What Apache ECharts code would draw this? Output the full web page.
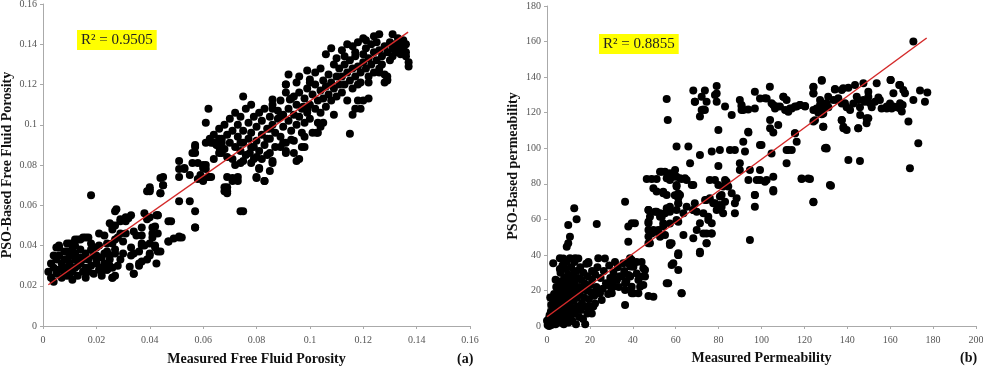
<!DOCTYPE html>
<html>
<head>
<meta charset="utf-8">
<script src="https://cdn.jsdelivr.net/npm/echarts@6/dist/echarts.min.js"></script>
<style>
  html, body { margin: 0; padding: 0; background: #fff; }
  #chart { width: 983px; height: 368px; }
</style>
</head>
<body>
<div id="chart"></div>
<script>
// (a) measured vs PSO-based free fluid porosity
const porosityPoints = [
  [0.002,0.027],[0.003,0.024],[0.003,0.031],[0.004,0.029],[0.004,0.022],[0.005,0.033],[0.005,0.026],[0.006,0.039],
  [0.006,0.035],[0.006,0.028],[0.007,0.024],[0.007,0.031],[0.008,0.037],[0.008,0.027],[0.009,0.033],[0.009,0.029],
  [0.009,0.025],[0.010,0.041],[0.010,0.035],[0.010,0.031],[0.011,0.027],[0.011,0.023],[0.012,0.036],[0.012,0.033],
  [0.012,0.029],[0.013,0.043],[0.013,0.025],[0.014,0.038],[0.014,0.034],[0.014,0.031],[0.015,0.027],[0.015,0.044],
  [0.016,0.036],[0.016,0.029],[0.016,0.024],[0.017,0.044],[0.017,0.033],[0.018,0.065],[0.018,0.038],[0.018,0.030],
  [0.019,0.026],[0.020,0.035],[0.020,0.031],[0.021,0.028],[0.021,0.040],[0.022,0.034],[0.022,0.025],[0.023,0.045],
  [0.023,0.031],[0.024,0.037],[0.024,0.028],[0.025,0.033],[0.026,0.024],[0.026,0.041],[0.027,0.036],[0.028,0.030],
  [0.027,0.057],[0.028,0.044],[0.026,0.050],[0.029,0.052],[0.031,0.054],[0.033,0.055],[0.038,0.056],[0.043,0.055],
  [0.040,0.067],[0.044,0.066],[0.051,0.062],[0.055,0.062],[0.057,0.057],[0.057,0.049],[0.048,0.052],[0.040,0.054],
  [0.037,0.049],[0.041,0.049],[0.037,0.045],[0.043,0.046],[0.041,0.044],[0.047,0.042],[0.051,0.044],[0.052,0.044],
  [0.042,0.040],[0.044,0.037],[0.040,0.035],[0.037,0.032],[0.036,0.030],[0.034,0.026],[0.033,0.035],[0.033,0.039],
  [0.037,0.040],[0.025,0.051],[0.026,0.048],[0.021,0.046],[0.016,0.044],[0.014,0.043],[0.012,0.043],[0.009,0.041],
  [0.006,0.040],[0.005,0.039],[0.027,0.043],[0.030,0.042],[0.027,0.038],[0.030,0.036],[0.025,0.035],[0.029,0.033],
  [0.026,0.029],[0.027,0.025],[0.026,0.024],[0.024,0.028],[0.022,0.027],[0.022,0.029],[0.020,0.033],[0.031,0.046],
  [0.034,0.047],[0.034,0.026],[0.036,0.031],[0.0325,0.0295],[0.036,0.037],[0.038,0.040],[0.037,0.041],[0.035,0.045],
  [0.034,0.036],[0.040,0.041],[0.040,0.036],[0.042,0.039],[0.043,0.037],[0.0425,0.031],[0.039,0.033],[0.047,0.042],
  [0.049,0.0435],[0.051,0.0445],[0.0425,0.055],[0.039,0.053],[0.042,0.0495],[0.041,0.046],[0.032,0.0535],[0.031,0.052],
  [0.029,0.053],[0.029,0.046],[0.0275,0.058],[0.027,0.050],[0.026,0.0495],[0.045,0.074],[0.045,0.070],[0.044,0.066],
  [0.040,0.069],[0.043,0.055],[0.047,0.052],[0.057,0.049],[0.075,0.057],[0.074,0.057],[0.057,0.089],[0.057,0.086],
  [0.056,0.081],[0.055,0.075],[0.053,0.0785],[0.051,0.082],[0.051,0.078],[0.051,0.074],[0.045,0.070],[0.044,0.0735],
  [0.040,0.068],[0.039,0.067],[0.062,0.074],[0.060,0.072],[0.059,0.075],[0.061,0.080],[0.060,0.0785],[0.064,0.083],
  [0.067,0.086],[0.066,0.089],[0.064,0.091],[0.0625,0.093],[0.069,0.069],[0.068,0.067],[0.069,0.066],[0.071,0.072],
  [0.071,0.0735],[0.074,0.081],[0.072,0.080],[0.075,0.097],[0.074,0.091],[0.0775,0.086],[0.080,0.084],[0.079,0.089],
  [0.081,0.0785],[0.080,0.0735],[0.083,0.072],[0.085,0.077],[0.086,0.081],[0.085,0.086],[0.084,0.093],[0.085,0.098],
  [0.089,0.104],[0.086,0.108],[0.086,0.1125],[0.094,0.114],[0.0925,0.1125],[0.0975,0.109],[0.099,0.1075],[0.101,0.096],
  [0.093,0.0925],[0.091,0.086],[0.096,0.083],[0.098,0.089],[0.057,0.090],[0.056,0.086],[0.061,0.091],[0.063,0.091],
  [0.066,0.093],[0.067,0.091],[0.053,0.078],[0.058,0.081],[0.060,0.080],[0.061,0.078],[0.060,0.073],[0.058,0.073],
  [0.062,0.074],[0.063,0.074],[0.068,0.069],[0.069,0.067],[0.073,0.072],[0.069,0.074],[0.073,0.074],[0.080,0.074],
  [0.083,0.072],[0.081,0.078],[0.086,0.082],[0.082,0.083],[0.078,0.081],[0.075,0.082],[0.071,0.083],[0.069,0.084],
  [0.095,0.082],[0.097,0.089],[0.094,0.086],[0.091,0.087],[0.089,0.089],[0.091,0.091],[0.094,0.092],[0.098,0.094],
  [0.103,0.096],[0.062,0.108],[0.061,0.101],[0.064,0.095],[0.065,0.090],[0.066,0.098],[0.067,0.093],[0.068,0.088],
  [0.068,0.100],[0.069,0.095],[0.070,0.091],[0.070,0.103],[0.066,0.086],[0.071,0.097],[0.072,0.089],[0.072,0.106],
  [0.073,0.094],[0.073,0.100],[0.074,0.087],[0.074,0.104],[0.075,0.091],[0.076,0.108],[0.076,0.085],[0.077,0.093],
  [0.077,0.101],[0.078,0.089],[0.078,0.096],[0.079,0.104],[0.079,0.083],[0.080,0.092],[0.080,0.099],[0.081,0.087],
  [0.081,0.106],[0.075,0.114],[0.078,0.110],[0.082,0.095],[0.082,0.102],[0.083,0.090],[0.083,0.108],[0.084,0.098],
  [0.084,0.085],[0.085,0.093],[0.085,0.104],[0.086,0.100],[0.086,0.110],[0.087,0.096],[0.087,0.089],[0.088,0.103],
  [0.088,0.107],[0.089,0.094],[0.089,0.112],[0.090,0.099],[0.090,0.105],[0.091,0.116],[0.090,0.091],[0.092,0.102],
  [0.092,0.108],[0.093,0.097],[0.093,0.113],[0.094,0.105],[0.095,0.110],[0.095,0.100],[0.096,0.116],[0.096,0.104],
  [0.097,0.108],[0.097,0.096],[0.098,0.113],[0.098,0.101],[0.099,0.118],[0.099,0.106],[0.100,0.110],[0.100,0.103],
  [0.092,0.125],[0.096,0.124],[0.091,0.120],[0.100,0.1225],[0.091,0.120],[0.100,0.121],[0.101,0.115],[0.102,0.108],
  [0.102,0.120],[0.103,0.112],[0.103,0.101],[0.104,0.117],[0.104,0.106],[0.105,0.122],[0.105,0.113],[0.106,0.109],
  [0.106,0.119],[0.107,0.115],[0.107,0.125],[0.108,0.112],[0.108,0.121],[0.109,0.118],[0.109,0.105],[0.110,0.124],
  [0.110,0.114],[0.1025,0.096],[0.104,0.099],[0.105,0.101],[0.111,0.120],[0.111,0.128],[0.112,0.116],[0.112,0.124],
  [0.113,0.130],[0.113,0.120],[0.114,0.126],[0.114,0.112],[0.115,0.122],[0.115,0.132],[0.116,0.128],[0.116,0.118],
  [0.117,0.124],[0.117,0.134],[0.118,0.129],[0.118,0.120],[0.119,0.126],[0.119,0.121],[0.120,0.131],[0.120,0.135],
  [0.115,0.0955],[0.116,0.105],[0.117,0.108],[0.122,0.113],[0.118,0.112],[0.119,0.108],[0.120,0.112],[0.122,0.121],
  [0.106,0.135],[0.108,0.138],[0.110,0.133],[0.112,0.137],[0.114,0.140],[0.116,0.139],[0.118,0.141],[0.120,0.143],
  [0.109,0.130],[0.113,0.134],[0.117,0.136],[0.121,0.142],[0.124,0.144],[0.126,0.145],[0.104,0.128],[0.102,0.126],
  [0.099,0.127],[0.095,0.121],[0.121,0.128],[0.121,0.138],[0.122,0.124],[0.122,0.133],[0.123,0.130],[0.123,0.140],
  [0.124,0.126],[0.124,0.136],[0.125,0.132],[0.125,0.141],[0.126,0.128],[0.126,0.137],[0.127,0.134],[0.127,0.130],
  [0.128,0.139],[0.128,0.125],[0.129,0.136],[0.129,0.124],[0.130,0.132],[0.130,0.141],[0.129,0.1225],[0.131,0.138],
  [0.131,0.134],[0.131,0.145],[0.132,0.140],[0.132,0.136],[0.133,0.143],[0.133,0.138],[0.134,0.141],[0.134,0.135],
  [0.135,0.142],[0.135,0.138],[0.136,0.140],[0.136,0.136],[0.137,0.131],[0.137,0.129],[0.136,0.134],[0.129,0.122],
  [0.126,0.126],[0.128,0.121],
  [0.004,0.035],[0.007,0.028],[0.008,0.033],[0.010,0.026],[0.011,0.038],[0.013,0.030],[0.015,0.033],[0.017,0.027],
  [0.019,0.035],[0.020,0.039],[0.023,0.036],[0.025,0.030],[0.024,0.041],[0.018,0.041],[0.012,0.040],[0.009,0.037]
];
const porosityTrend = [[0.002, 0.0205], [0.1368, 0.146]];
const porosityR2 = 'R² = 0.9505';

// (b) measured vs PSO-based permeability
const permeabilityPoints = [
  [0.3,0.5],[0.5,2],[0.8,4],[1,1],[1.2,6],[1.5,3],[1.8,8],[2,0.5],[2.2,5],[2.5,10],[2.8,2],[3,7],[3,14],[3.3,18],
  [3.5,4],[3.8,12],[4,1],[4,9],[4.3,22],[4.5,6],[4.8,16],[5,3],[5,11],[2.9,35.3],[1,0],[0,3],[5.3,20],[5.5,8],
  [5.8,25],[6,2],[6,14],[6.3,30],[6.5,5],[6.8,18],[7,10],[7.2,34],[7.5,22],[7.8,1],[8,13],[8,27],[8.3,7],[8.5,19],
  [8.8,32],[9,4],[9,24],[9.2,15],[9.5,9],[9.8,29],[10,2],[10,20],[7.6,38],[9.2,36],[10.3,12],[10.5,26],[10.8,6],
  [11,17],[11.3,33],[11.5,23],[11.8,3],[12,10],[12,29],[12.3,19],[12.5,14],[12.8,36],[13,7],[13,25],[13.3,21],
  [13.5,1],[13.8,31],[14,16],[14.3,11],[14.6,38],[14.6,27],[15,5],[15,22],[15.3,18],[15.5,33],[15.8,9],[16,26],
  [16.3,13],[16.5,21],[16.8,4],[17,30],[17.3,16],[17.5,24],[17.8,1],[18,11],[18.3,35],[18.5,20],[18.8,7],[19,28],
  [19.3,36],[19.5,15],[20,23],[20,11],[20.5,19],[21,31],[21.6,10.9],[21,26],[22,17],[22.4,12.7],[22.5,29],[23,22],
  [23.2,20.2],[23.5,33],[24,19],[24.7,18.4],[25,27],[25.5,14.6],[26,21],[26.5,31],[27,38],[27.5,24],[28,23.1],
  [28.5,18],[29,34],[29.5,27],[30,21],[30.3,24],[30.9,22.1],[30.2,18.4],[31,30],[31.7,36],[32,26],[32.6,25.9],
  [33,33],[33.5,22],[34,28],[34.9,27.8],[35.6,35.3],[36,31],[36.4,20.2],[36.4,11.8],[37,25],[38,28.7],[38,35.3],
  [38.7,38.1],[39.5,22.1],[40.3,18.4],[40.3,33.3],[41.8,29.6],[41.8,36],[42.6,25.9],[42.6,18.4],[43.4,22.1],
  [44.1,27.8],[44.1,36],[44.9,23.1],[44.9,32.5],[45.7,31.5],[45.7,27.8],[47.3,16.9],[39.5,18.4],[38.8,27.8],
  [6,38.1],[10.7,38.1],[13.1,38.1],[19.3,35.3],[23.9,38.1],[20.9,7.1],[2,12],[4,26],[6,32],[1.5,16],[7,15],[11,8],
  [12.7,66.2],[13.8,60],[9.9,56.8],[10.7,50.2],[9.9,46.5],[9.2,44.6],[23.2,57.4],[36.4,69.9],[37.9,55.9],[39.5,57.8],
  [41,57.8],[37.9,47.4],[39.5,37.1],[38.8,33.4],[36.4,24],[49.6,16.5],[47.3,65.2],[47.3,58.7],[50.4,64.3],[52.7,63.4],
  [50.4,53],[52.7,50.2],[57.3,57.6],[60.4,59.6],[61.2,68.9],[59.6,73.6],[54.2,75.5],[48,46.5],[57.3,46.5],[58.1,34.3],
  [61.2,39.9],[61.2,31.5],[56.5,24],[62.7,18.4],[55.8,127.7],[56.3,115.9],[46.5,82.7],[48.8,82.7],[51.1,82.7],
  [53.5,86.8],[55,86.8],[57.3,85.9],[60.4,84],[62.8,82.7],[65.1,82.1],[67.5,79.3],[60.4,79.3],[55.8,83.1],[51.1,75.6],
  [54.2,74.7],[49.6,77.5],[61.2,74.6],[61.2,71.8],[61.2,69],[60.4,65.3],[57.3,67.1],[55.8,66.2],[55,63.4],[53.5,61.5],
  [51.1,64.3],[47.3,65.3],[48,61.5],[47.3,57.8],[47.3,54],[49.6,54],[51.9,54],[54.2,57.8],[63.6,63.4],[68.2,65.3],
  [69.8,64.3],[72.9,63.4],[73.7,70.9],[75.9,71.8],[75.2,59.6],[71.3,57.8],[69.8,54],[74.4,52.1],[76.8,52.1],
  [68.2,49.3],[74.4,46.5],[71.3,40.9],[63.6,51.2],[61.2,39.9],[62.8,18.4],[58.9,35.3],[57.3,45.6],[55.8,24],
  [78.3,69],[79.1,65.3],[81.4,67.1],[80.6,72.8],[82.1,78.4],[83.7,81.2],[87.6,69],[87.6,63.4],[76.8,57.8],[82.1,63.4],
  [47.3,50.3],[47.3,46.5],[48.8,52.1],[60.4,100.9],[65.9,100.9],[71.3,96.2],[76.8,98.1],[80.6,99],[85.3,99],
  [87.6,99],[92.3,98.1],[66.7,91.5],[79.9,90],[89.9,91.5],[99.3,101.8],[104.7,97.1],[99.3,87.8],[94.6,87.8],
  [89.9,87.8],[99.3,82.1],[102.4,82.1],[105.5,83.9],[101.6,81.2],[93.9,82.1],[97.8,82.1],[111.7,91.5],[105.5,75.6],
  [96.9,73.7],[96.9,67.1],[94.6,48.4],[79.9,110.3],[93.8,109.3],[91.5,103.7],[100,101.8],[111.7,99],[114.1,99],
  [115.6,108.4],[116.4,103.7],[130.4,99.9],[124.2,69.9],[118.7,82.9],[121.8,82.9],[52.7,86.8],[59.7,87.8],
  [62,83.1],[64.3,83.1],[58.9,84],[57.3,82.1],[60.4,78.4],[68.2,79.3],[62,73.7],[55.8,73.7],[65.1,67.1],[68.9,69],
  [68.2,65.3],[75.9,82.1],[78.3,82.1],[79.9,79.3],[83,82.1],[84.5,78.4],[86.1,74.7],[81.4,73.7],[80.6,68.1],
  [77.5,69],[74.4,70.9],[83,69.9],[88.4,71.8],[96.9,73.7],[105.5,76.5],[57.3,64.3],[61.2,58.7],[72.9,52.1],
  [75.2,61.5],[76.7,52.1],[71.3,41.8],[61.2,40.9],[58.1,46.5],[55,51.2],[54.2,55.9],[52.7,61.5],[74.4,46.5],
  [68.2,132.4],[73.6,132.4],[79.1,135],[79.1,130.8],[68.9,126.2],[72.1,129],[74.4,126.2],[79.1,126.2],[72.9,121.8],
  [73.6,121.5],[71.3,117.8],[83,123.4],[86.1,118.7],[89.9,127.1],[90.7,124.3],[90.7,121.5],[93.8,121.8],
  [96.9,131.8],[96.9,122.4],[99.3,128],[102.4,128],[103.9,134.6],[105.5,124.3],[106.3,122.4],[108.6,123.4],
  [110.2,129],[111.7,127.1],[111,121.5],[112.5,120.5],[114.1,122.4],[115.6,123.4],[118,124.3],[120.3,123.4],
  [124.2,134.6],[124.2,130.8],[128.1,138.4],[130.4,125.2],[128.8,119.6],[104,115.9],[104,111.2],[105.5,108.8],
  [107.8,113.1],[115.6,108.4],[112.5,99],[93.9,108.8],[116.4,123.4],[113.3,122.4],[107.1,123.4],[104.7,125.3],
  [110.2,129],[101.6,128.1],[91.5,121.5],[90.7,123.4],[78.3,129.9],[69,126.2],[72.1,121.5],
  [170.8,160],[173.9,132.4],[177.3,131.4],[176.2,126.2],[170.8,127.1],[168.5,115],[173.1,102.8],[169.2,88.7],
  [160.2,138.4],[164.6,135.6],[166.1,132.8],[153.7,136.5],[147.5,136.5],[143.6,135.6],[137.4,132.8],[134.2,133.1],
  [128.1,138],[124.2,134.3],[124.2,130.9],[127.3,127.1],[131.1,129],[135.1,127.1],[138.9,125.3],[144.4,129],
  [147.5,127.1],[150.6,125.3],[155.2,127.1],[158.4,123.4],[161.5,123.4],[164.6,125.3],[165.4,120.6],[141.3,121.5],
  [146,118.7],[149,116.8],[145.1,111.2],[137.4,115.9],[138.2,111.2],[140.5,93.4],[145.9,92.8],[128.8,121.5],
  [125.7,122.4],[124.2,115],[128.8,112.1],[129.6,100],[131.9,79.3],[124.2,69.6],[122.6,82.7],[118.7,82.7],
  [132.4,78.9],[130.1,100.3],[134.3,133.3],[138.1,133.7],[140.5,134],[149.8,131.8],[160.2,138.4],[164.2,135.5],
  [166.9,130.9],[117.9,124.3],[120.3,123.7],[124.2,121.5],[127.3,124.3],[129.6,125.2],[131.2,123],[133.5,127.1],
  [135.8,128.1],[137.4,125.2],[139.7,123],[142.8,125.2],[145.1,127.1],[145.9,123],[148.2,126.2],[149.8,129],
  [151.4,123],[152.9,126.2],[154.5,128.6],[156,122.4],[158.4,122.4],[160.7,122.4],[163,123],[164.6,122.4],
  [165.8,124.3],[161.5,130.9],[159.9,125.2],[124.9,115.8],[128.8,112.1],[137.4,115.8],[138.2,112.1],[139.7,110.2],
  [145.1,111.2],[149,114],[149.8,116.8],[127.3,121.5],[128.1,119.1],[126.5,119.9]
];
const permeabilityTrend = [[0, 5.2], [177, 162]];
const permeabilityR2 = 'R² = 0.8855';

const serif = "'Liberation Serif', 'Times New Roman', serif";
const tickLabel = { color: '#555', fontFamily: serif, fontSize: 10, margin: 6 };
const xTickLabel = { color: '#555', fontFamily: serif, fontSize: 10, margin: 9 };
const axisName = { color: '#111', fontFamily: serif, fontSize: 14, fontWeight: 'bold' };
const axisLine = { show: true, lineStyle: { color: '#aaa', width: 1 } };
const axisTick = { show: true, length: 3, lineStyle: { color: '#aaa' } };

const chart = echarts.init(document.getElementById('chart'));

const option = {
  backgroundColor: '#fff',
  animation: false,
  grid: [
    { left: 43, top: 4, width: 427, height: 322, outerBoundsMode: 'none' },
    { left: 547, top: 6, width: 429, height: 320, outerBoundsMode: 'none' }
  ],
  xAxis: [
    {
      gridIndex: 0, type: 'value', min: 0, max: 0.16, interval: 0.02,
      name: 'Measured Free Fluid Porosity', nameLocation: 'middle', nameGap: 26,
      nameTextStyle: axisName, axisLabel: xTickLabel, axisLine, axisTick,
      splitLine: { show: false }
    },
    {
      gridIndex: 1, type: 'value', min: 0, max: 200, interval: 20,
      name: 'Measured Permeability', nameLocation: 'middle', nameGap: 25,
      nameTextStyle: axisName, axisLabel: xTickLabel, axisLine, axisTick,
      splitLine: { show: false }
    }
  ],
  yAxis: [
    {
      gridIndex: 0, type: 'value', min: 0, max: 0.16, interval: 0.02,
      name: 'PSO-Based Free Fluid Porosity', nameLocation: 'middle', nameGap: 29,
      nameTextStyle: axisName, axisLabel: tickLabel, axisLine, axisTick,
      splitLine: { show: false }
    },
    {
      gridIndex: 1, type: 'value', min: 0, max: 180, interval: 20,
      name: 'PSO-Based permeability', nameLocation: 'middle', nameGap: 27,
      nameTextStyle: axisName, axisLabel: tickLabel, axisLine, axisTick,
      splitLine: { show: false }
    }
  ],
  series: [
    {
      type: 'scatter', xAxisIndex: 0, yAxisIndex: 0,
      data: porosityPoints, symbolSize: 8,
      itemStyle: { color: '#000', opacity: 1 }
    },
    {
      type: 'line', xAxisIndex: 0, yAxisIndex: 0,
      data: porosityTrend, symbol: 'none',
      lineStyle: { color: '#d42a2a', width: 1.5 }
    },
    {
      type: 'scatter', xAxisIndex: 1, yAxisIndex: 1,
      data: permeabilityPoints, symbolSize: 8,
      itemStyle: { color: '#000', opacity: 1 }
    },
    {
      type: 'line', xAxisIndex: 1, yAxisIndex: 1,
      data: permeabilityTrend, symbol: 'none',
      lineStyle: { color: '#d42a2a', width: 1.5 }
    }
  ],
  graphic: [
    {
      type: 'text', left: 77, top: 30,
      style: {
        text: porosityR2, fill: '#222', font: "15px " + serif,
        backgroundColor: '#ffff00', padding: [3, 4, 2, 4]
      }
    },
    {
      type: 'text', left: 599, top: 34,
      style: {
        text: permeabilityR2, fill: '#222', font: "15px " + serif,
        backgroundColor: '#ffff00', padding: [3, 4, 2, 4]
      }
    },
    {
      type: 'text', left: 457, top: 352,
      style: { text: '(a)', fill: '#111', font: "bold 14px " + serif }
    },
    {
      type: 'text', left: 960, top: 351,
      style: { text: '(b)', fill: '#111', font: "bold 14px " + serif }
    }
  ]
};

chart.setOption(option);
</script>
</body>
</html>
